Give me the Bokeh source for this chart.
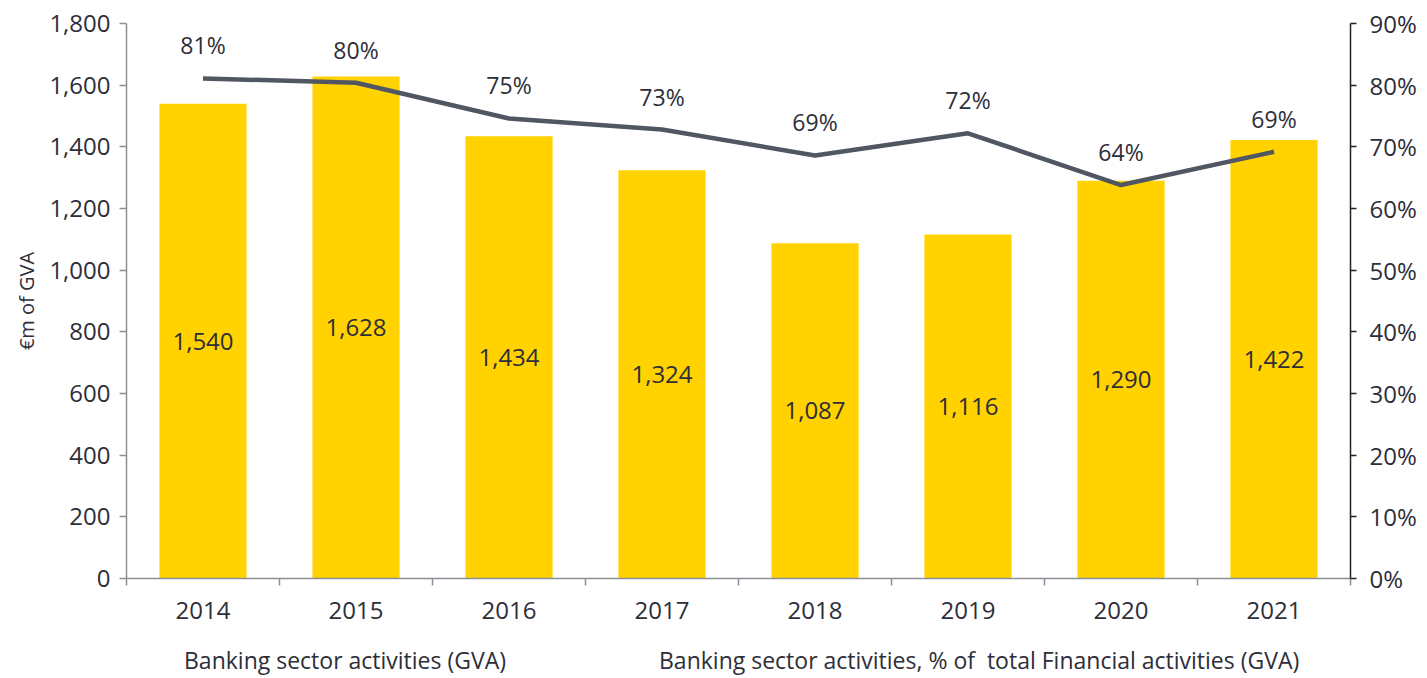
import numpy as np
from bokeh.plotting import figure
from bokeh.layouts import column
from bokeh.models import (ColumnDataSource, Range1d, LinearAxis, FixedTicker,
                          NumeralTickFormatter, Legend, LegendItem, CDSView,
                          IndexFilter)
from bokeh.core.properties import value
from bokeh.embed import file_html
from bokeh.resources import INLINE

years = ["2014", "2015", "2016", "2017", "2018", "2019", "2020", "2021"]
gva = [1540, 1628, 1434, 1324, 1087, 1116, 1290, 1422]
share = [0.811, 0.804, 0.746, 0.728, 0.686, 0.722, 0.638, 0.692]
left_ticks = [0, 200, 400, 600, 800, 1000, 1200, 1400, 1600, 1800]
right_ticks = [0.0, 0.1, 0.2, 0.3, 0.4, 0.5, 0.6, 0.7, 0.8, 0.9]

FONT = "Open Sans"
TXT = "#2e2e38"
YELLOW = "#FFD200"
LINE = "#505762"

xs = np.arange(len(years)) + 0.5
src = ColumnDataSource(dict(
    x=xs, gva=gva, half=[v / 2 for v in gva],
    gva_lbl=[f"{v:,}" for v in gva],
    share=share, share_lbl=[f"{round(s * 100)}%" for s in share],
))

p = figure(width=1419, height=634, output_backend="svg", toolbar_location=None,
           x_range=Range1d(0, len(years)), y_range=Range1d(0, 1800),
           min_border_left=126, min_border_right=63, min_border_top=23,
           min_border_bottom=56, background_fill_color="white",
           border_fill_color="white")
p.outline_line_color = None
p.grid.visible = False
p.extra_y_ranges = {"pct": Range1d(0, 0.9)}

p.vbar(x="x", top="gva", width=0.57, source=src, fill_color=YELLOW,
       line_color=None)
p.line(x="x", y="share", source=src, y_range_name="pct",
       line_color=LINE, line_width=4.5)

p.text(x="x", y="half", text="gva_lbl", source=src, text_align="center",
       text_baseline="middle", text_font=value(FONT), text_font_size="24px",
       text_color=TXT)
p.text(x="x", y="share", text="share_lbl", source=src, y_range_name="pct",
       y_offset=-33, text_align="center", text_baseline="middle",
       text_font=value(FONT), text_font_size="23px", text_color=TXT)

# x axis: labels at centres, tick marks at category boundaries
xa = p.xaxis[0]
xa.ticker = FixedTicker(ticks=list(xs), minor_ticks=list(range(len(years) + 1)))
xa.major_label_overrides = {float(x): y for x, y in zip(xs, years)}
xa.major_tick_out = 0
xa.major_tick_in = 0
xa.minor_tick_out = 7
xa.minor_tick_in = 0
xa.minor_tick_line_color = "#8c9096"
xa.minor_tick_line_width = 1.5
xa.axis_line_color = "#8c9096"
xa.axis_line_width = 1.5
xa.major_label_standoff = 16
xa.major_label_text_font = FONT
xa.major_label_text_font_size = "24px"
xa.major_label_text_color = TXT

ya = p.yaxis[0]
ya.ticker = FixedTicker(ticks=left_ticks)
ya.formatter = NumeralTickFormatter(format="0,0")
ya.axis_line_color = "#8c9096"
ya.axis_line_width = 1.5
ya.major_tick_line_color = "#8c9096"
ya.major_tick_line_width = 1.5
ya.major_tick_out = 7
ya.major_tick_in = 0
ya.minor_tick_out = 0
ya.minor_tick_in = 0
ya.major_label_standoff = 9
ya.major_label_text_font = FONT
ya.major_label_text_font_size = "24px"
ya.major_label_text_color = TXT
ya.axis_label = "€m of GVA"
ya.axis_label_text_font = FONT
ya.axis_label_text_font_size = "20px"
ya.axis_label_text_font_style = "normal"
ya.axis_label_text_color = TXT
ya.axis_label_standoff = 6

ra = LinearAxis(y_range_name="pct", ticker=FixedTicker(ticks=right_ticks),
                formatter=NumeralTickFormatter(format="0%"))
ra.axis_line_color = "#222222"
ra.axis_line_width = 1.5
ra.major_tick_line_color = "#222222"
ra.major_tick_line_width = 1.5
ra.major_tick_out = 6
ra.major_tick_in = 0
ra.minor_tick_out = 0
ra.minor_tick_in = 0
ra.major_label_standoff = 13
ra.major_label_text_font = FONT
ra.major_label_text_font_size = "24px"
ra.major_label_text_color = TXT
p.add_layout(ra, "right")

# legend strip: same series styles, with an empty view (no marks drawn)
lg = figure(width=1419, height=42, output_backend="svg", toolbar_location=None,
            x_range=Range1d(0, len(years)), y_range=Range1d(0, 1800),
            x_axis_location=None, y_axis_location=None,
            min_border_left=0, min_border_right=0, min_border_top=0,
            min_border_bottom=0, background_fill_color="white",
            border_fill_color="white")
lg.outline_line_color = None
lg.grid.visible = False
lb = lg.vbar(x="x", top="gva", width=0.57, source=src,
             view=CDSView(filter=IndexFilter([])),
             fill_color=YELLOW, line_color=None)
ll = lg.line(x="x", y="share", source=src, view=CDSView(filter=IndexFilter([])),
             line_color=LINE, line_width=4.5)

legend = Legend(items=[
    LegendItem(label="Banking sector activities (GVA)", renderers=[lb]),
    LegendItem(label="Banking sector activities, % of  total Financial activities (GVA)",
               renderers=[ll]),
], orientation="horizontal", location=(0, 0))
legend.glyph_width = 51
legend.glyph_height = 14
legend.label_standoff = 7
legend.spacing = 95
legend.padding = 0
legend.margin = 0
legend.border_line_color = None
legend.background_fill_alpha = 0
legend.label_text_font = FONT
legend.label_text_font_size = "23px"
legend.label_text_color = TXT
lg.add_layout(legend, "center")

layout = column(p, lg, spacing=0)
open("out.html", "w").write(file_html(layout, INLINE))
